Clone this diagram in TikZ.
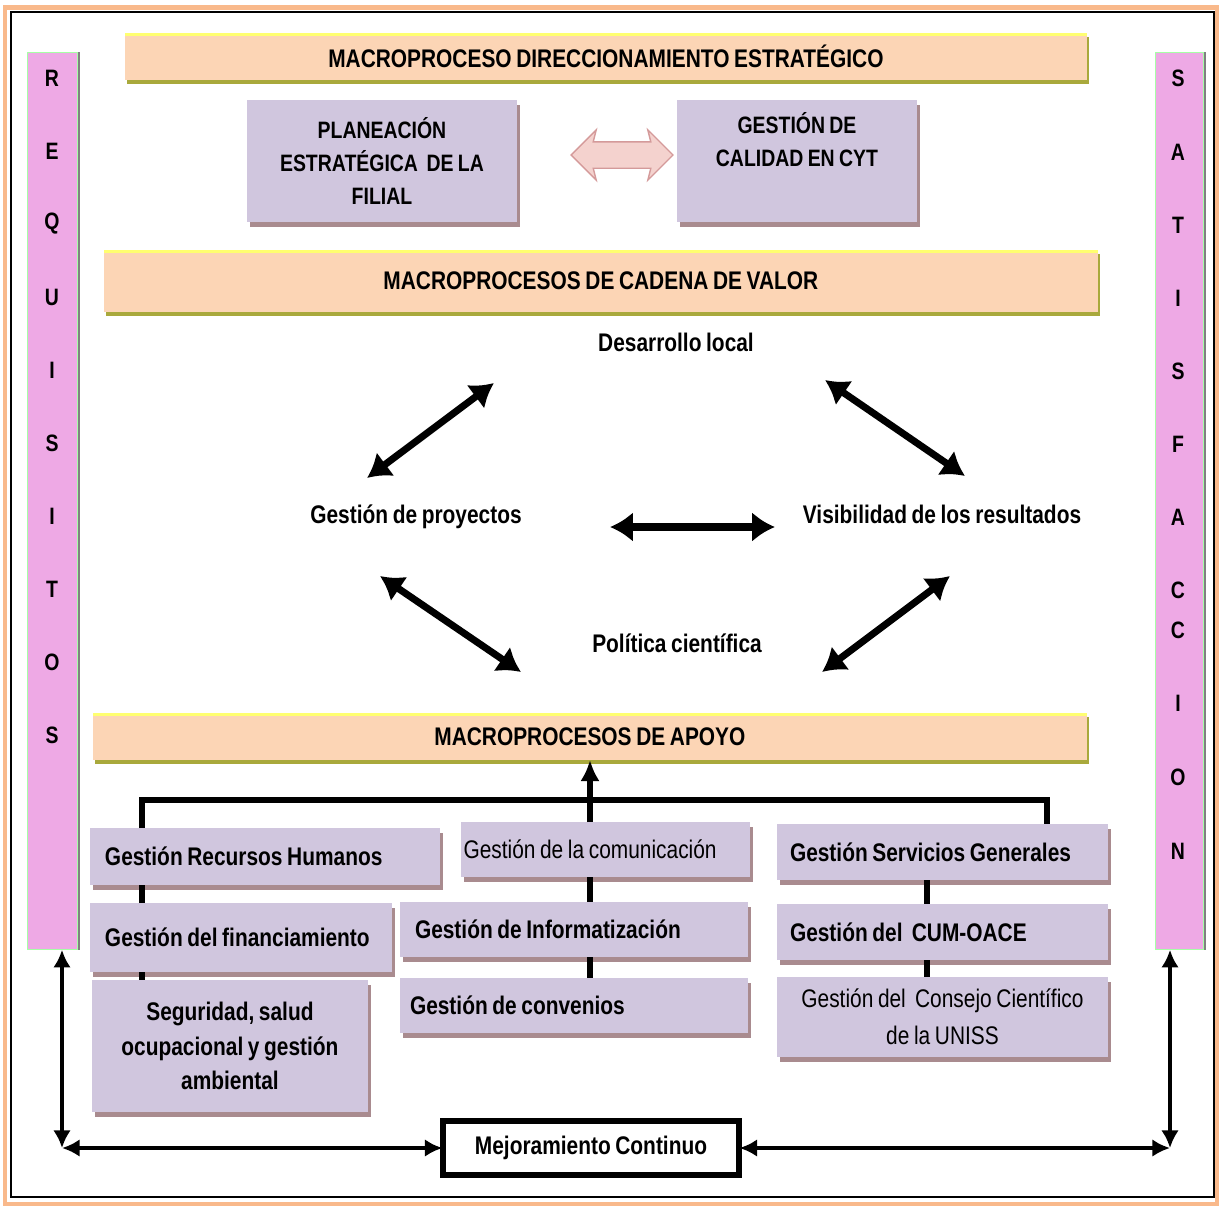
\documentclass[tikz,border=0pt]{standalone}
\usepackage{fontspec}
\setmainfont[FakeStretch=0.82, WordSpace=0.8]{Liberation Sans}
\usetikzlibrary{positioning,shadows,shapes.arrows,arrows.meta}
\definecolor{lila}{HTML}{D0C6DE}
\definecolor{lilasombra}{HTML}{A98B8F}
\definecolor{durazno}{HTML}{FCD5B5}
\definecolor{oliva}{HTML}{A9A93C}
\definecolor{amarillo}{HTML}{FFFF70}
\definecolor{rosa}{HTML}{EEA9E5}
\definecolor{marco}{HTML}{F9B98B}
\definecolor{rosaflecha}{HTML}{F4D2CE}
\definecolor{rosaborde}{HTML}{D49A9A}
\newcommand{\letra}{\fontsize{14.5}{19.8}\selectfont\bfseries}
\newcommand{\letrafina}{\fontsize{14.5}{21}\selectfont}
\newcommand{\letramay}{\fontsize{13.5}{18.7}\selectfont\bfseries}
\tikzset{every node/.style={align=center, font=\letra, inner sep=0pt, outer sep=0pt}, >={Latex[length=13pt,width=17pt]},
  caja/.style={fill=lila, drop shadow={shadow xshift=0.06cm, shadow yshift=-0.1cm, fill=lilasombra, opacity=1}},
  izq/.style={align=flush left, inner xsep=0.3cm},
  franja/.style={fill=durazno, drop shadow={shadow xshift=0.04cm, shadow yshift=-0.08cm, fill=oliva, opacity=1},
    path picture={\draw[amarillo, line width=3pt] (path picture bounding box.north west) -- (path picture bounding box.north east);}},
  barra/.style={fill=rosa, draw=green!35!white, line width=0.5pt, drop shadow={shadow xshift=0.06cm, shadow yshift=0cm, fill=gray, opacity=1}},
  flecha/.style={<->, line width=4pt},
  enlace/.style={line width=3.4pt},
  flechab/.style={{Latex[length=10pt,width=10pt]}-{Latex[length=10pt,width=10pt]}, line width=2.8pt}}

\begin{document}
\begin{tikzpicture}[x=0.02cm, y=-0.02cm]
\useasboundingbox (0,0) rectangle (1220,1207);
% marco
\draw[marco, line width=2.8pt] (5,7.5) rectangle (1217,1204);
\draw[line width=1pt] (11,12) rectangle (1214,1197);

% barras laterales
\node[barra, minimum width=1cm, minimum height=17.96cm, anchor=north west] (req) at (27,52) {};
\node[barra, minimum width=0.96cm, minimum height=17.96cm, anchor=north west] (sat) at (1155,52) {};
\foreach \l [count=\i] in {R,E,Q,U,I,S,I,T,O,S}
  \node[font=\letramay] (req\i) at (52,5+73*\i) {\l};
\foreach \l/\y [count=\i] in {S/78,A/152,T/225,I/298,S/371,F/444,A/517,C/590,C/630,I/703,O/777,N/851}
  \node[font=\letramay] (sat\i) at (1178,\y) {\l};

% direccionamiento
\node[franja, minimum width=19.24cm, minimum height=0.94cm, anchor=north west] (dir) at (125,33) {MACROPROCESO DIRECCIONAMIENTO ESTRATÉGICO};
\node[caja, font=\letramay, minimum width=5.4cm, minimum height=2.44cm, anchor=north west] (plan) at (247,100) {PLANEACIÓN\\ESTRATÉGICA~ DE LA\\FILIAL};
\node[caja, font=\letramay, minimum width=4.8cm, minimum height=2.44cm, anchor=north west] (cal) at (677,100) {GESTIÓN DE\\CALIDAD EN CYT\\\strut};
\node[double arrow, fill=rosaflecha, draw=rosaborde, line width=0.8pt, inner sep=0.25cm, minimum height=2.04cm, minimum width=1cm,
  double arrow head extend=0.24cm, double arrow head indent=0.06cm] (doble) at (622,155) {};

% cadena de valor
\node[franja, minimum width=19.88cm, minimum height=1.24cm, anchor=north west] (cad) at (104,250) {MACROPROCESOS DE CADENA DE VALOR};
\node (des) at (676,342) {Desarrollo local};
\node (proy) at (416,517) {Gestión de proyectos};
\node (vis) at (942,514) {Visibilidad de los resultados};
\node (pol) at (677,643) {Política científica};
\coordinate (a1) at (367,478); \coordinate (b1) at (494,383);
\coordinate (a2) at (825,380); \coordinate (b2) at (965,476);
\coordinate (a3) at (610,527); \coordinate (b3) at (775,527);
\coordinate (a4) at (380,576); \coordinate (b4) at (521,672);
\coordinate (a5) at (822,672); \coordinate (b5) at (950,576);
\draw[flecha] (a1) -- (b1);
\draw[flecha] (a2) -- (b2);
\draw[flecha] (a3) -- (b3);
\draw[flecha] (a4) -- (b4);
\draw[flecha] (a5) -- (b5);

% apoyo
\node[franja, minimum width=19.88cm, minimum height=0.94cm, anchor=north west] (apo) at (93,713) {MACROPROCESOS DE APOYO};
\node[caja, izq, text width=6.4cm, minimum height=1.14cm, anchor=north west] (rrhh) at (90,828) {Gestión Recursos Humanos};
\node[caja, izq, text width=5.44cm, minimum height=1.38cm, anchor=north west] (fin) at (90,903) {\mbox{Gestión del financiamiento}};
\node[caja, minimum width=5.52cm, minimum height=2.64cm, anchor=north west] (seg) at (92,980) {Seguridad, salud\\ocupacional y gestión\\ambiental};
\node[caja, izq, font=\letrafina, inner xsep=0.05cm, text width=5.68cm, minimum height=1.1cm, anchor=north west] (com) at (461,822) {Gestión de la comunicación};
\node[caja, izq, text width=6.36cm, minimum height=1.1cm, anchor=north west] (inf) at (400,902) {Gestión de Informatización};
\node[caja, izq, inner xsep=0.2cm, text width=6.56cm, minimum height=1.1cm, anchor=north west] (conv) at (400,978) {Gestión de convenios};
\node[caja, izq, inner xsep=0.26cm, text width=6.1cm, minimum height=1.12cm, anchor=north west] (sg) at (777,824) {Gestión Servicios Generales};
\node[caja, izq, inner xsep=0.26cm, text width=6.1cm, minimum height=1.12cm, anchor=north west] (cum) at (777,904) {Gestión del~ CUM-OACE};
\node[caja, font=\letrafina, minimum width=6.62cm, minimum height=1.6cm, anchor=north west] (cons) at (777,977) {Gestión del~ Consejo Científico\\de la UNISS};
\node[draw, line width=3.4pt, minimum width=5.94cm, minimum height=1.08cm] (mej) at (591,1148) {Mejoramiento Continuo};

% enlaces
\coordinate (bus) at (590,800);
\coordinate (busI) at (142,800);
\coordinate (busD) at (1047,800);
\coordinate (ejeD) at (927,800);
\draw[enlace] (busI |- rrhh.north) -- (busI) -- (busD) -- (busD |- sg.north);
\draw[enlace, -{Latex[length=12pt,width=11pt]}] (bus |- com.north) -- (bus |- apo.south);
\draw[enlace] (busI |- rrhh.south) -- (busI |- fin.north);
\draw[enlace] (busI |- fin.south) -- (busI |- seg.north);
\draw[enlace] (bus |- com.south) -- (bus |- inf.north);
\draw[enlace] (bus |- inf.south) -- (bus |- conv.north);
\draw[enlace] (ejeD |- sg.south) -- (ejeD |- cum.north);
\draw[enlace] (ejeD |- cum.south) -- (ejeD |- cons.north);

% mejoramiento
\coordinate (esqI) at (62,1148);
\coordinate (esqD) at (1170,1148);
\draw[flechab] (mej.west) -- (esqI);
\draw[flechab] (esqI |- req.south) -- (esqI);
\draw[flechab] (mej.east) -- (esqD);
\draw[flechab] (esqD |- sat.south) -- (esqD);
\end{tikzpicture}
\end{document}
